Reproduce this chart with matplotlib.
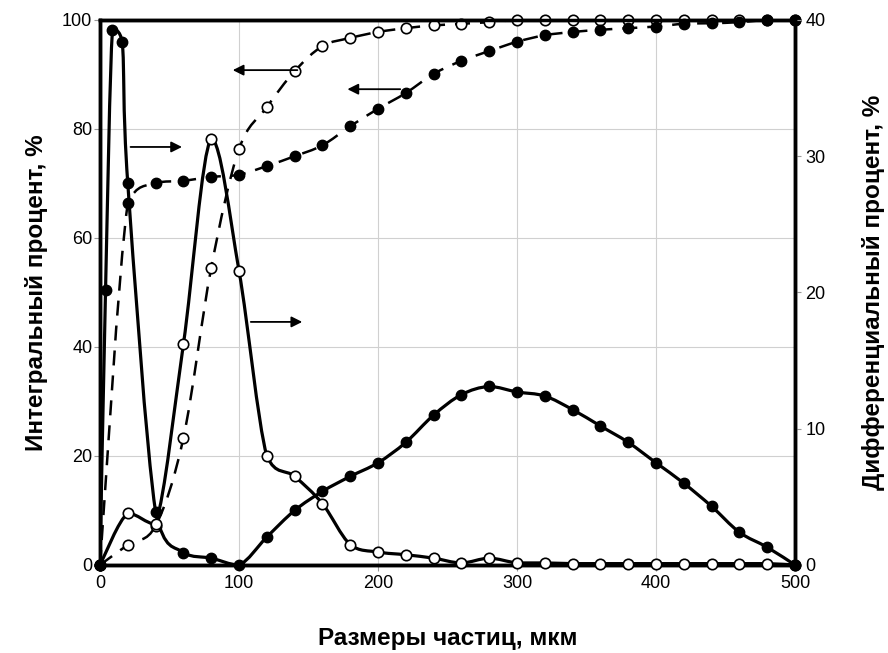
import matplotlib
matplotlib.use("Agg")
import matplotlib.pyplot as plt
from matplotlib.path import Path
from matplotlib.patches import PathPatch

plt.rcParams['font.family'] = ['Liberation Sans', 'DejaVu Sans']

# integral curves (left axis, %)
x_int = [0, 20, 40, 60, 80, 100, 120, 140, 160, 180, 200, 220, 240, 260, 280, 300,
         320, 340, 360, 380, 400, 420, 440, 460, 480, 500]
int_filled = [0, 66.4, 70.1, 70.5, 71.2, 71.6, 73.2, 75.0, 77.0, 80.5, 83.7, 86.6, 90.1, 92.5,
              94.3, 96.0, 97.2, 97.8, 98.2, 98.5, 98.8, 99.3, 99.4, 99.6, 100, 100]
int_open = [0, 3.7, 7.2, 23.3, 54.5, 76.3, 84.0, 90.6, 95.2, 96.7, 97.8, 98.5, 99.0, 99.3,
            99.6, 100, 100, 100, 100, 100, 100, 100, 100, 100, 100, 100]

# differential curves (right axis, %)
x_dif_f = [0, 4, 9, 16, 20, 40, 60, 80, 100, 120, 140, 160, 180, 200, 220, 240, 260, 280,
           300, 320, 340, 360, 380, 400, 420, 440, 460, 480, 500]
dif_filled = [0, 20.2, 39.3, 38.4, 28.0, 3.9, 0.9, 0.5, 0, 2.05, 4.0, 5.4, 6.5, 7.5, 9.0, 11.0,
              12.5, 13.1, 12.7, 12.4, 11.4, 10.2, 9.0, 7.5, 6.0, 4.3, 2.4, 1.3, 0]
x_dif_o = x_int
dif_open = [0, 3.8, 3.0, 16.2, 31.3, 21.6, 8.0, 6.5, 4.5, 1.5, 0.95, 0.75, 0.5, 0.15, 0.5,
            0.15, 0.15, 0.1, 0.1, 0.1, 0.1, 0.1, 0.1, 0.1, 0.1, 0]


def smooth(ax, x, y, **kw):
    # excel-like smoothed line, control points kept inside each segment's y range
    n = len(x)
    verts = [(x[0], y[0])]
    codes = [Path.MOVETO]
    for i in range(n - 1):
        a = i - 1 if i > 0 else i
        b = i + 2 if i + 2 < n else i + 1
        lo, hi = min(y[i], y[i + 1]), max(y[i], y[i + 1])
        c1y = min(max(y[i] + (y[i + 1] - y[a]) / 6, lo), hi)
        c2y = min(max(y[i + 1] - (y[b] - y[i]) / 6, lo), hi)
        c1 = (x[i] + (x[i + 1] - x[a]) / 6, c1y)
        c2 = (x[i + 1] - (x[b] - x[i]) / 6, c2y)
        verts += [c1, c2, (x[i + 1], y[i + 1])]
        codes += [Path.CURVE4] * 3
    ax.add_patch(PathPatch(Path(verts, codes), fill=False, edgecolor='black',
                           clip_on=True, zorder=2, **kw))


fig = plt.figure(figsize=(8.88, 6.53), dpi=100)
ax = fig.add_axes([0.1126, 0.1348, 0.7827, 0.8346])
ax2 = ax.twinx()

dash = (0, (6, 4))
smooth(ax, x_int, int_open, lw=1.8, linestyle=dash)
smooth(ax, x_int, int_filled, lw=1.8, linestyle=dash)
smooth(ax2, x_dif_o, dif_open, lw=2.3)
smooth(ax2, x_dif_f, dif_filled, lw=2.3)

mk = dict(linestyle='none', marker='o', ms=7.5, mec='black', clip_on=False, zorder=3)
ax.plot(x_int, int_open, mfc='white', mew=1.2, **mk)
ax.plot(x_int, int_filled, mfc='black', **mk)
ax2.plot(x_dif_o, dif_open, mfc='white', mew=1.2, **mk)
ax2.plot(x_dif_f, dif_filled, mfc='black', **mk)

ax.set_xlim(0, 500)
ax.set_ylim(0, 100)
ax2.set_ylim(0, 40)
ax.set_xticks([0, 100, 200, 300, 400, 500])
ax.set_yticks([0, 20, 40, 60, 80, 100])
ax2.set_yticks([0, 10, 20, 30, 40])

ax.grid(True, color='#d0d0d0', lw=0.8)
ax.set_axisbelow(True)

for a in (ax, ax2):
    a.tick_params(labelsize=13, length=4, color='#999999', width=0.8)
    for s in a.spines.values():
        s.set_linewidth(2.5)
        s.set_color('black')
ax.tick_params(axis='y', pad=1.5)

ax.set_xlabel('Размеры частиц, мкм', fontsize=17.5, fontweight='bold', labelpad=25)
ax.set_ylabel('Интегральный процент, %', fontsize=17.5, fontweight='bold', labelpad=10)
ax2.set_ylabel('Дифференциальный процент, %', fontsize=17.5, fontweight='bold', labelpad=26)

arr = dict(arrowstyle='-|>', lw=1.3, color='black', mutation_scale=16)
ax.annotate('', xy=(61, 76.7), xytext=(20, 76.7), arrowprops=arr)
ax.annotate('', xy=(93.5, 90.8), xytext=(144, 90.8), arrowprops=arr)
ax.annotate('', xy=(147.5, 44.6), xytext=(106.5, 44.6), arrowprops=arr)
ax.annotate('', xy=(176, 87.3), xytext=(218, 87.3), arrowprops=arr)

fig.savefig('out.png', dpi=100)
